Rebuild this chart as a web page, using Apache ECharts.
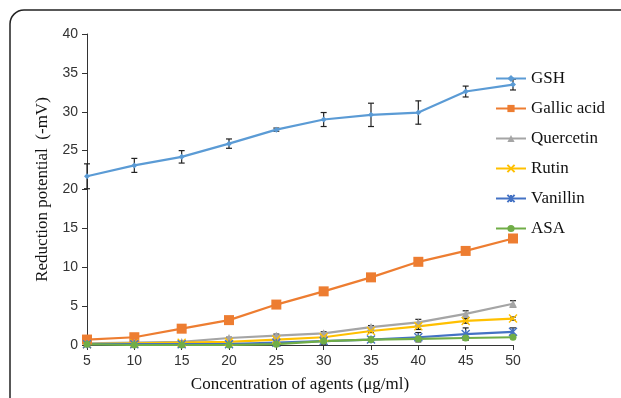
<!DOCTYPE html>
<html>
<head>
<meta charset="utf-8">
<script src="https://cdn.jsdelivr.net/npm/echarts@6/dist/echarts.min.js"></script>
<style>
  html, body { margin: 0; padding: 0; background: #fff; }
  #chart { width: 621px; height: 398px; }
</style>
</head>
<body>
<div id="chart"></div>
<script>
var concentrations = ['5', '10', '15', '20', '25', '30', '35', '40', '45', '50'];

var gsh = [21.7, 23.1, 24.2, 25.9, 27.7, 29.0, 29.6, 29.9, 32.6, 33.5];
var gallic = [0.7, 1.0, 2.1, 3.2, 5.2, 6.9, 8.7, 10.7, 12.1, 13.7];
var quercetin = [0.2, 0.3, 0.4, 0.9, 1.2, 1.5, 2.3, 2.9, 4.0, 5.3];
var rutin = [0.1, 0.2, 0.3, 0.4, 0.7, 1.0, 1.8, 2.4, 3.1, 3.4];
var vanillin = [0.1, 0.1, 0.1, 0.1, 0.3, 0.5, 0.7, 1.0, 1.4, 1.7];
var asa = [0.1, 0.0, 0.0, 0.0, 0.1, 0.5, 0.7, 0.8, 0.9, 1.0];

// error bar half-widths
var gshErr = [1.6, 0.9, 0.8, 0.6, 0.2, 0.9, 1.5, 1.5, 0.7, 0.7];
var gallicErr = [0.1, 0.1, 0.1, 0.1, 0.4, 0.2, 0.2, 0.2, 0.2, 0.2];
var quercetinErr = [0.1, 0.1, 0.1, 0.1, 0.2, 0.2, 0.2, 0.4, 0.4, 0.4];
var rutinErr = [0.1, 0.1, 0.1, 0.1, 0.1, 0.2, 0.2, 0.4, 0.3, 0.2];
var vanillinErr = [0.1, 0.1, 0.1, 0.2, 0.2, 0.4, 0.3, 0.6, 0.8, 0.5];
var asaErr = [0.1, 0.1, 0.1, 0.1, 0.1, 0.2, 0.2, 0.2, 0.2, 0.1];

var serif = '"Liberation Serif", "DejaVu Serif", serif';
var sans = '"Liberation Sans", Arial, sans-serif';

var myChart = echarts.init(document.getElementById('chart'));

function errBars(vals, errs) {
	var d = [];
	for (var i = 0; i < vals.length; i++) {
		d.push([i, vals[i] - errs[i], vals[i] + errs[i]]);
	}
	return {
		type: 'custom',
		silent: true,
		z: 1,
		renderItem: function (params, api) {
			var lo = api.coord([api.value(0), api.value(1)]);
			var hi = api.coord([api.value(0), api.value(2)]);
			var w = 3;
			var st = { stroke: '#222', lineWidth: 1.2 };
			return {
				type: 'group',
				children: [
					{ type: 'line', shape: { x1: lo[0], y1: lo[1], x2: hi[0], y2: hi[1] }, style: st },
					{ type: 'line', shape: { x1: lo[0] - w, y1: lo[1], x2: lo[0] + w, y2: lo[1] }, style: st },
					{ type: 'line', shape: { x1: hi[0] - w, y1: hi[1], x2: hi[0] + w, y2: hi[1] }, style: st }
				]
			};
		},
		encode: { x: 0, y: [1, 2] },
		data: d
	};
}

function lineSeries(name, data, color, symbol, size, stroked) {
	return {
		name: name,
		type: 'line',
		data: data,
		symbol: symbol,
		symbolSize: size,
		z: 3,
		lineStyle: { color: color, width: 2.2 },
		itemStyle: stroked
			? { color: 'rgba(0,0,0,0)', borderColor: color, borderWidth: 1.4 }
			: { color: color, borderWidth: 0 }
	};
}

var option = {
	animation: false,
	color: ['#5b9bd5', '#ed7d31', '#a5a5a5', '#ffc000', '#4472c4', '#70ad47'],
	graphic: [
		{
			type: 'rect',
			shape: { x: 10, y: 10, width: 680, height: 460, r: 14 },
			style: { fill: 'none', stroke: '#222', lineWidth: 1.5 },
			silent: true
		}
	],
	grid: { left: 87, top: 34, right: 108, bottom: 51 },
	legend: {
		orient: 'vertical',
		left: 490,
		top: 65,
		itemGap: 13,
		itemWidth: 30,
		itemHeight: 9,
		textStyle: { fontFamily: serif, fontSize: 17, color: '#111' },
		data: ['GSH', 'Gallic acid', 'Quercetin', 'Rutin', 'Vanillin', 'ASA']
	},
	xAxis: {
		type: 'category',
		data: concentrations,
		boundaryGap: false,
		name: 'Concentration of agents (μg/ml)',
		nameLocation: 'center',
		nameGap: 31,
		nameTextStyle: { fontFamily: serif, fontSize: 17, color: '#111' },
		axisLine: { lineStyle: { color: '#333', width: 1 } },
		axisTick: { show: true, alignWithLabel: true, length: 5, lineStyle: { color: '#333' } },
		axisLabel: { fontFamily: sans, fontSize: 14, color: '#333', margin: 9 },
		splitLine: { show: false }
	},
	yAxis: {
		type: 'value',
		min: 0,
		max: 40,
		interval: 5,
		name: 'Reduction potential  (-mV)',
		nameLocation: 'center',
		nameGap: 32,
		nameTextStyle: { fontFamily: serif, fontSize: 17, color: '#111' },
		axisLine: { show: true, lineStyle: { color: '#333', width: 1 } },
		axisTick: { show: true, length: 5, lineStyle: { color: '#333' } },
		axisLabel: { fontFamily: sans, fontSize: 14, color: '#333', margin: 9 },
		splitLine: { show: false }
	},
	series: [
		errBars(gsh, gshErr),
		errBars(gallic, gallicErr),
		errBars(quercetin, quercetinErr),
		errBars(rutin, rutinErr),
		errBars(vanillin, vanillinErr),
		errBars(asa, asaErr),
		lineSeries('GSH', gsh, '#5b9bd5', 'diamond', 6, false),
		lineSeries('Gallic acid', gallic, '#ed7d31', 'rect', 10, false),
		lineSeries('Quercetin', quercetin, '#a5a5a5', 'triangle', 8, false),
		lineSeries('Rutin', rutin, '#ffc000', 'path://M0,0L10,10M10,0L0,10', 8, true),
		lineSeries('Vanillin', vanillin, '#4472c4', 'path://M0,0L10,10M10,0L0,10M5,0L5,10', 8, true),
		lineSeries('ASA', asa, '#70ad47', 'circle', 7, false)
	]
};

myChart.setOption(option);
</script>
</body>
</html>
